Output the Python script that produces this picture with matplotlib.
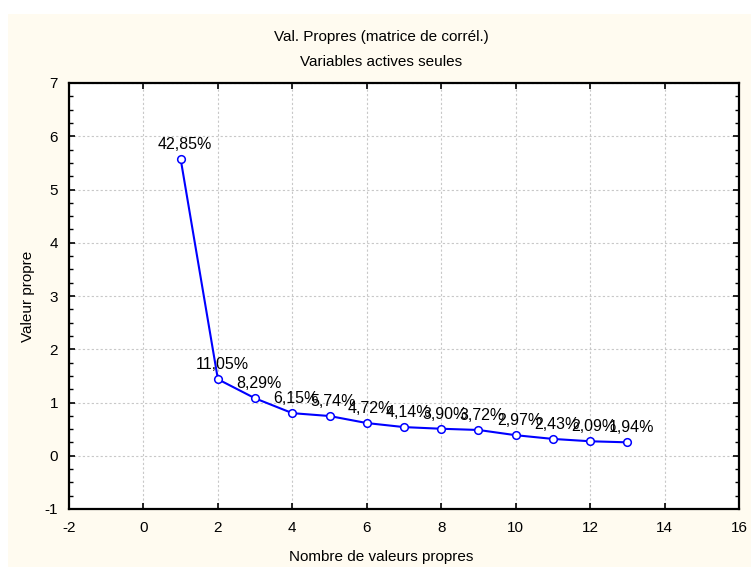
import matplotlib
matplotlib.use("Agg")
import matplotlib.pyplot as plt
from matplotlib.patches import Rectangle
from matplotlib.ticker import AutoMinorLocator

# Eigenvalues of the correlation matrix and their share of total variance
rank = [1, 2, 3, 4, 5, 6, 7, 8, 9, 10, 11, 12, 13]
eigenvalues = [5.571, 1.437, 1.078, 0.800, 0.746, 0.614, 0.538,
               0.507, 0.484, 0.386, 0.316, 0.272, 0.252]
pct_labels = ["42,85%", "11,05%", "8,29%", "6,15%", "5,74%", "4,72%", "4,14%",
              "3,90%", "3,72%", "2,97%", "2,43%", "2,09%", "1,94%"]
x_ticks = [-2, 0, 2, 4, 6, 8, 10, 12, 14, 16]
y_ticks = [-1, 0, 1, 2, 3, 4, 5, 6, 7]

plt.rcParams['font.family'] = ['Liberation Sans', 'DejaVu Sans']
FS = 11

W, H = 751, 567
fig = plt.figure(figsize=(W / 100, H / 100), dpi=100)
fig.patch.set_facecolor('white')
# cream panel behind the chart
fig.patches.append(Rectangle((8 / W, 0), 1 - 8 / W, 1 - 14 / H,
                             transform=fig.transFigure, facecolor='#FFFBF0',
                             edgecolor='none', zorder=-10))

ax = fig.add_axes([69 / W, (H - 509) / H, 670 / W, 426 / H])
ax.set_facecolor('white')

ax.plot(rank, eigenvalues, color='#0000FF', linewidth=1.5, marker='o',
        markersize=5.5, markerfacecolor='white', markeredgecolor='#0000FF',
        markeredgewidth=1.1, zorder=3, clip_on=False)

for xv, yv, lab in zip(rank, eigenvalues, pct_labels):
    ax.annotate(lab, (xv, yv), xytext=(4, 7), textcoords='offset pixels',
                ha='center', va='bottom', fontsize=FS + 0.5, color='black',
                zorder=4)

ax.set_xlim(-2, 16)
ax.set_ylim(-1, 7)
ax.set_xticks(x_ticks)
ax.set_yticks(y_ticks)
ax.set_xticklabels([str(v) for v in x_ticks])
ax.set_yticklabels([str(v) for v in y_ticks])
ax.yaxis.set_minor_locator(AutoMinorLocator(4))

ax.grid(True, which='major', color='#C8C8C8', linestyle=(0, (2, 2)), linewidth=0.8)
ax.set_axisbelow(True)

for s in ax.spines.values():
    s.set_linewidth(1.6)
    s.set_color('black')

ax.tick_params(axis='both', which='major', direction='in', length=4, width=1.2,
               top=True, right=True, labelsize=FS)
ax.tick_params(axis='x', which='major', pad=9)
ax.tick_params(axis='y', which='major', pad=8)
ax.tick_params(axis='y', which='minor', direction='in', length=3, width=1.0,
               left=True, right=True)

cx = 381 / W
fig.text(cx, 1 - 37 / H, "Val. Propres (matrice de corrél.)", ha='center',
         va='center', fontsize=FS)
fig.text(cx, 1 - 62 / H, "Variables actives seules", ha='center',
         va='center', fontsize=FS)
fig.text(cx, 1 - 557 / H, "Nombre de valeurs propres", ha='center',
         va='center', fontsize=FS)
fig.text(28 / W, 1 - 296 / H, "Valeur propre", ha='center', va='center',
         rotation=90, fontsize=FS)

fig.savefig("out.png", dpi=100, facecolor=fig.get_facecolor())
